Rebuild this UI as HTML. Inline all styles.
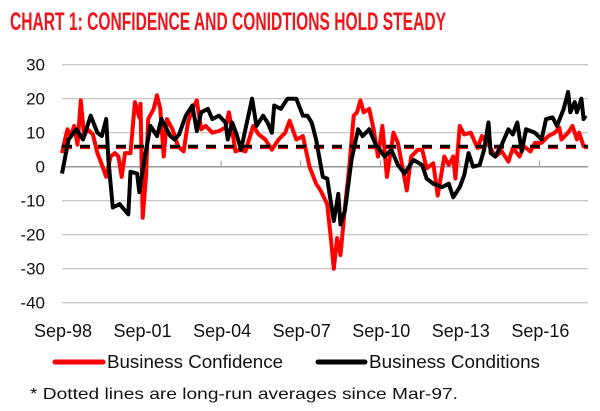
<!DOCTYPE html>
<html><head><meta charset="utf-8"><style>
body{margin:0;background:#fff;width:600px;height:411px;overflow:hidden;font-family:"Liberation Sans",sans-serif}
svg{display:block}
</style></head><body>
<svg id="chart" width="600" height="411">
<text x="10" y="30" fill="#f0141b" font-weight="bold" font-size="25" textLength="436" lengthAdjust="spacingAndGlyphs">CHART 1: CONFIDENCE AND CONIDTIONS HOLD STEADY</text>
<g id="grid"></g>
<g id="yticks"></g>
<g id="xticks"></g>
<g id="series"></g>
<g>
<line x1="55" y1="362" x2="103" y2="362" stroke="#f00" stroke-width="5" stroke-linecap="round"/>
<text x="107" y="368" font-size="18" fill="#111" textLength="176" lengthAdjust="spacingAndGlyphs">Business Confidence</text>
<line x1="318" y1="362" x2="365" y2="362" stroke="#000" stroke-width="5" stroke-linecap="round"/>
<text x="369" y="368" font-size="18" fill="#111" textLength="171" lengthAdjust="spacingAndGlyphs">Business Conditions</text>
</g>
<text x="30" y="399" font-size="16" fill="#111" textLength="428" lengthAdjust="spacingAndGlyphs">* Dotted lines are long-run  averages since Mar-97.</text>
</svg>
<script>
const yTicks=[30,20,10,0,-10,-20,-30,-40];
const xLabels=["Sep-98","Sep-01","Sep-04","Sep-07","Sep-10","Sep-13","Sep-16"];
const xLabelMonths=[0,36,72,108,144,180,216];
const confMonths=[0,1,2.5,4,5.5,7,8.5,10,11.5,14,16,17.5,20,22,24,25.5,27,28.5,31,33,35,35.5,36.5,38,39,41.5,43,44.5,46,47.5,50,52.5,55,57,59,61,63,65,68,71,74,75.5,77,78.5,80.5,83,86.5,89,92,95,98,101,103,106,109,112,115,117,120,121.5,123,124.5,126,128,130,132,133.5,135,136.5,139,141,143,145,147,150,152,156,158,161,163,165,168,170,173,175,177,178,180,182,185,188,190,193,196,199,202,204,207,209,212,214,217,220,223,225,226,229,231,233,234,236,237];
const confValues=[4,7,11,9,12,6.5,19.5,9,11,9.5,4,1.5,-3,3,4,3,-3,4,4,19,14.5,18.5,-15,-3,14,17,21,17,3,14,11,6,4.5,13,17,19.5,11,12,10,10.5,11.5,16,10.5,4.5,5,4.5,12,9.5,8,5,8,10,13.5,8,9,0,-5,-7,-11,-20,-30,-21,-26,-12,0,15,16,19.5,16,17,11,3,12,-3,10,7,-7,3,5,5,-0.5,1,-8.5,3,0.5,3,-3.5,12,9.5,10,5.5,9,6.5,3,4.5,1.5,5.5,3,6,4.5,7,7,9,10,11.5,8,10,12,8,10,6,6];
const condMonths=[0,1.5,3,6.5,9.5,13,16,18,20,21,23,26,30,31,34,35,37.5,40,43,45,49,51,53,56,59,61,63,66,68,71,74,75,77,79,81,83,86,88,91,93,95,96,99,102,106,109,111,113,115,118,120,123,125,126,128,131,133,134,136,139,142,146,149,152,155,159,163,165,168,172,175,177,180,182,184,186,189,191,193,194,196,199,202,204,206,208,210,212,214,217,219,222,224,227,229,230,232,233,235,236,237];
const condValues=[-2,3,8,11,8,15,10,9,14,2,-12,-11,-14,-1.5,-2,-7.5,3,12,9,14,9,8,9.5,15,18,10.5,16,17,14,15,13,8,13,9.5,5,11,20,12,15,13,10,18,17,20,20,15,15,13,8,-3,-3.5,-16,-8,-17,-13,2,8,11,9,11,6.5,3,5,0.5,-2,2,0.5,-3.5,-5,-6,-5,-9,-6,-2.5,4,0,0.5,5,13,4,3,6.5,11,9.5,13,4.5,11,10.5,10,8,14,14.5,12,17,22,16,19,16,20,14,15];
const confAvg=[5.6];
const condAvg=[6];

const L=62,R=588,PXU=3.4,PXM=2.21;
function yS(v){return 166.7-(v)*PXU;}
function xS(m){return L+m*PXM;}
const NS="http://www.w3.org/2000/svg";
function mk(tag,attrs,parent){const e=document.createElementNS(NS,tag);for(const k in attrs)e.setAttribute(k,attrs[k]);parent.appendChild(e);return e;}
const grid=document.getElementById('grid'),yt=document.getElementById('yticks'),xt=document.getElementById('xticks'),ser=document.getElementById('series');
yTicks.forEach(v=>{
  if(v!==0){const g=mk('line',{x1:L,x2:R,y1:yS(v),y2:yS(v),stroke:'#b5b5b5','stroke-width':1},grid);
  
  }
  const t=mk('text',{x:45,y:yS(v)+6,'text-anchor':'end','font-size':17,fill:'#111'},yt);
  t.textContent=v;
  
  
});
const ax=mk('line',{x1:L,x2:R,y1:yS(0),y2:yS(0),stroke:'#999','stroke-width':1.5},grid);


xLabelMonths.forEach((m,i)=>{
  if(i>0){const tk=mk('line',{x1:xS(m),x2:xS(m),y1:yS(0),y2:yS(0)-6,stroke:'#999','stroke-width':1},grid);
  
  }
  const t=mk('text',{x:xS(m)+1,y:337,'text-anchor':'middle','font-size':18,fill:'#111'},xt);
  t.textContent=xLabels[i];
  
  
});
const ra=mk('line',{x1:L,x2:R,y1:yS(confAvg[0]),y2:yS(confAvg[0]),stroke:'#f00','stroke-width':3,'stroke-dasharray':'10 8'},ser);


function path(ms,vs,col,name){
  const d=ms.map((m,i)=>(i?'L':'M')+xS(m).toFixed(1)+','+yS(vs[i]).toFixed(1)).join('');
  const p=mk('path',{d:d,fill:'none',stroke:col,'stroke-width':4,'stroke-linejoin':'round'},ser);
  
  
}
path(confMonths,confValues,'#ff0000','business-confidence-line');
path(condMonths,condValues,'#000000','business-conditions-line');
const ba=mk('line',{x1:L,x2:R,y1:yS(condAvg[0]),y2:yS(condAvg[0]),stroke:'#000','stroke-width':3,'stroke-dasharray':'10 8'},ser);


</script>
</body></html>
